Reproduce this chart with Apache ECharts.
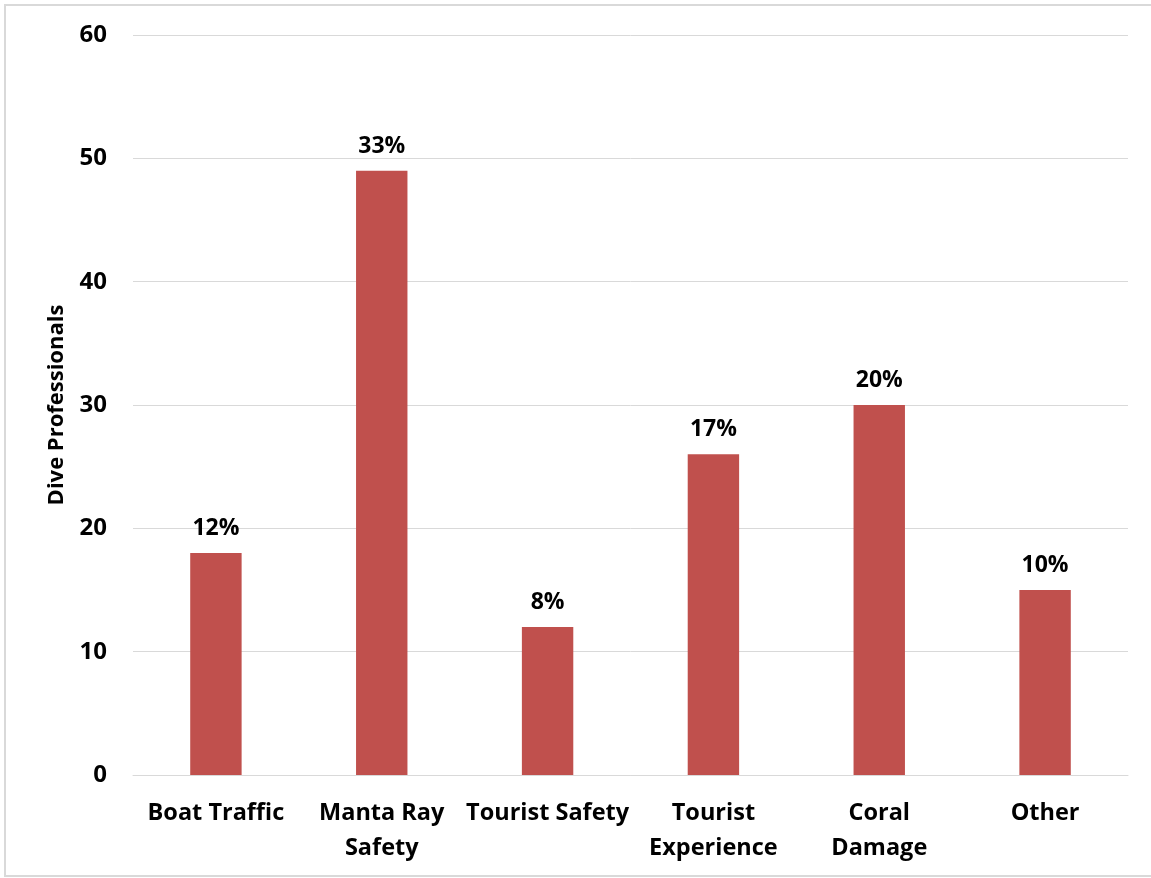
<!DOCTYPE html>
<html>
<head>
<meta charset="utf-8">
<script src="https://cdn.jsdelivr.net/npm/echarts@6/dist/echarts.min.js"></script>
<style>
  html, body { margin: 0; padding: 0; background: #fff; }
  #chart { width: 1151px; height: 878px; }
</style>
</head>
<body>
<div id="chart"></div>
<script>
// Concerns raised by dive professionals
const categories = ['Boat Traffic', 'Manta Ray\nSafety', 'Tourist Safety', 'Tourist\nExperience', 'Coral\nDamage', 'Other'];
const counts = [18, 49, 12, 26, 30, 15];
const percentLabels = ['12%', '33%', '8%', '17%', '20%', '10%'];
const yTicks = { min: 0, max: 60, interval: 10 };

const FONT = 'Open Sans';
const chart = echarts.init(document.getElementById('chart'), null, { renderer: 'canvas' });

chart.setOption({
  backgroundColor: '#fff',
  animation: false,
  textStyle: { fontFamily: FONT },
  graphic: [{
    type: 'polyline',
    shape: { points: [[1151, 5], [5, 5], [5, 876], [1151, 876]] },
    style: { stroke: '#d9d9d9', lineWidth: 2, fill: null },
    silent: true
  }],
  grid: { left: 133, right: 23, top: 35, bottom: 103 },
  xAxis: {
    type: 'category',
    data: categories,
    axisLine: { show: true, lineStyle: { color: '#d9d9d9', width: 1 } },
    axisTick: { show: false },
    axisLabel: {
      interval: 0,
      margin: 21,
      color: '#000',
      fontFamily: FONT,
      fontWeight: 'bold',
      fontSize: 23.5,
      lineHeight: 35
    }
  },
  yAxis: {
    type: 'value',
    min: yTicks.min,
    max: yTicks.max,
    interval: yTicks.interval,
    name: 'Dive Professionals',
    nameLocation: 'middle',
    nameGap: 65,
    nameTextStyle: { color: '#000', fontFamily: FONT, fontWeight: 'bold', fontSize: 22 },
    axisLine: { show: false },
    axisTick: { show: false },
    axisLabel: { color: '#000', fontFamily: FONT, fontWeight: 'bold', fontSize: 24, margin: 26 },
    splitLine: { lineStyle: { color: '#d9d9d9', width: 1 } }
  },
  series: [{
    type: 'bar',
    data: counts,
    barWidth: '31%',
    itemStyle: { color: '#C0504D' },
    label: {
      show: true,
      position: 'top',
      distance: 13,
      color: '#000',
      fontFamily: FONT,
      fontWeight: 'bold',
      fontSize: 23,
      formatter: p => percentLabels[p.dataIndex]
    }
  }]
});
</script>
</body>
</html>
